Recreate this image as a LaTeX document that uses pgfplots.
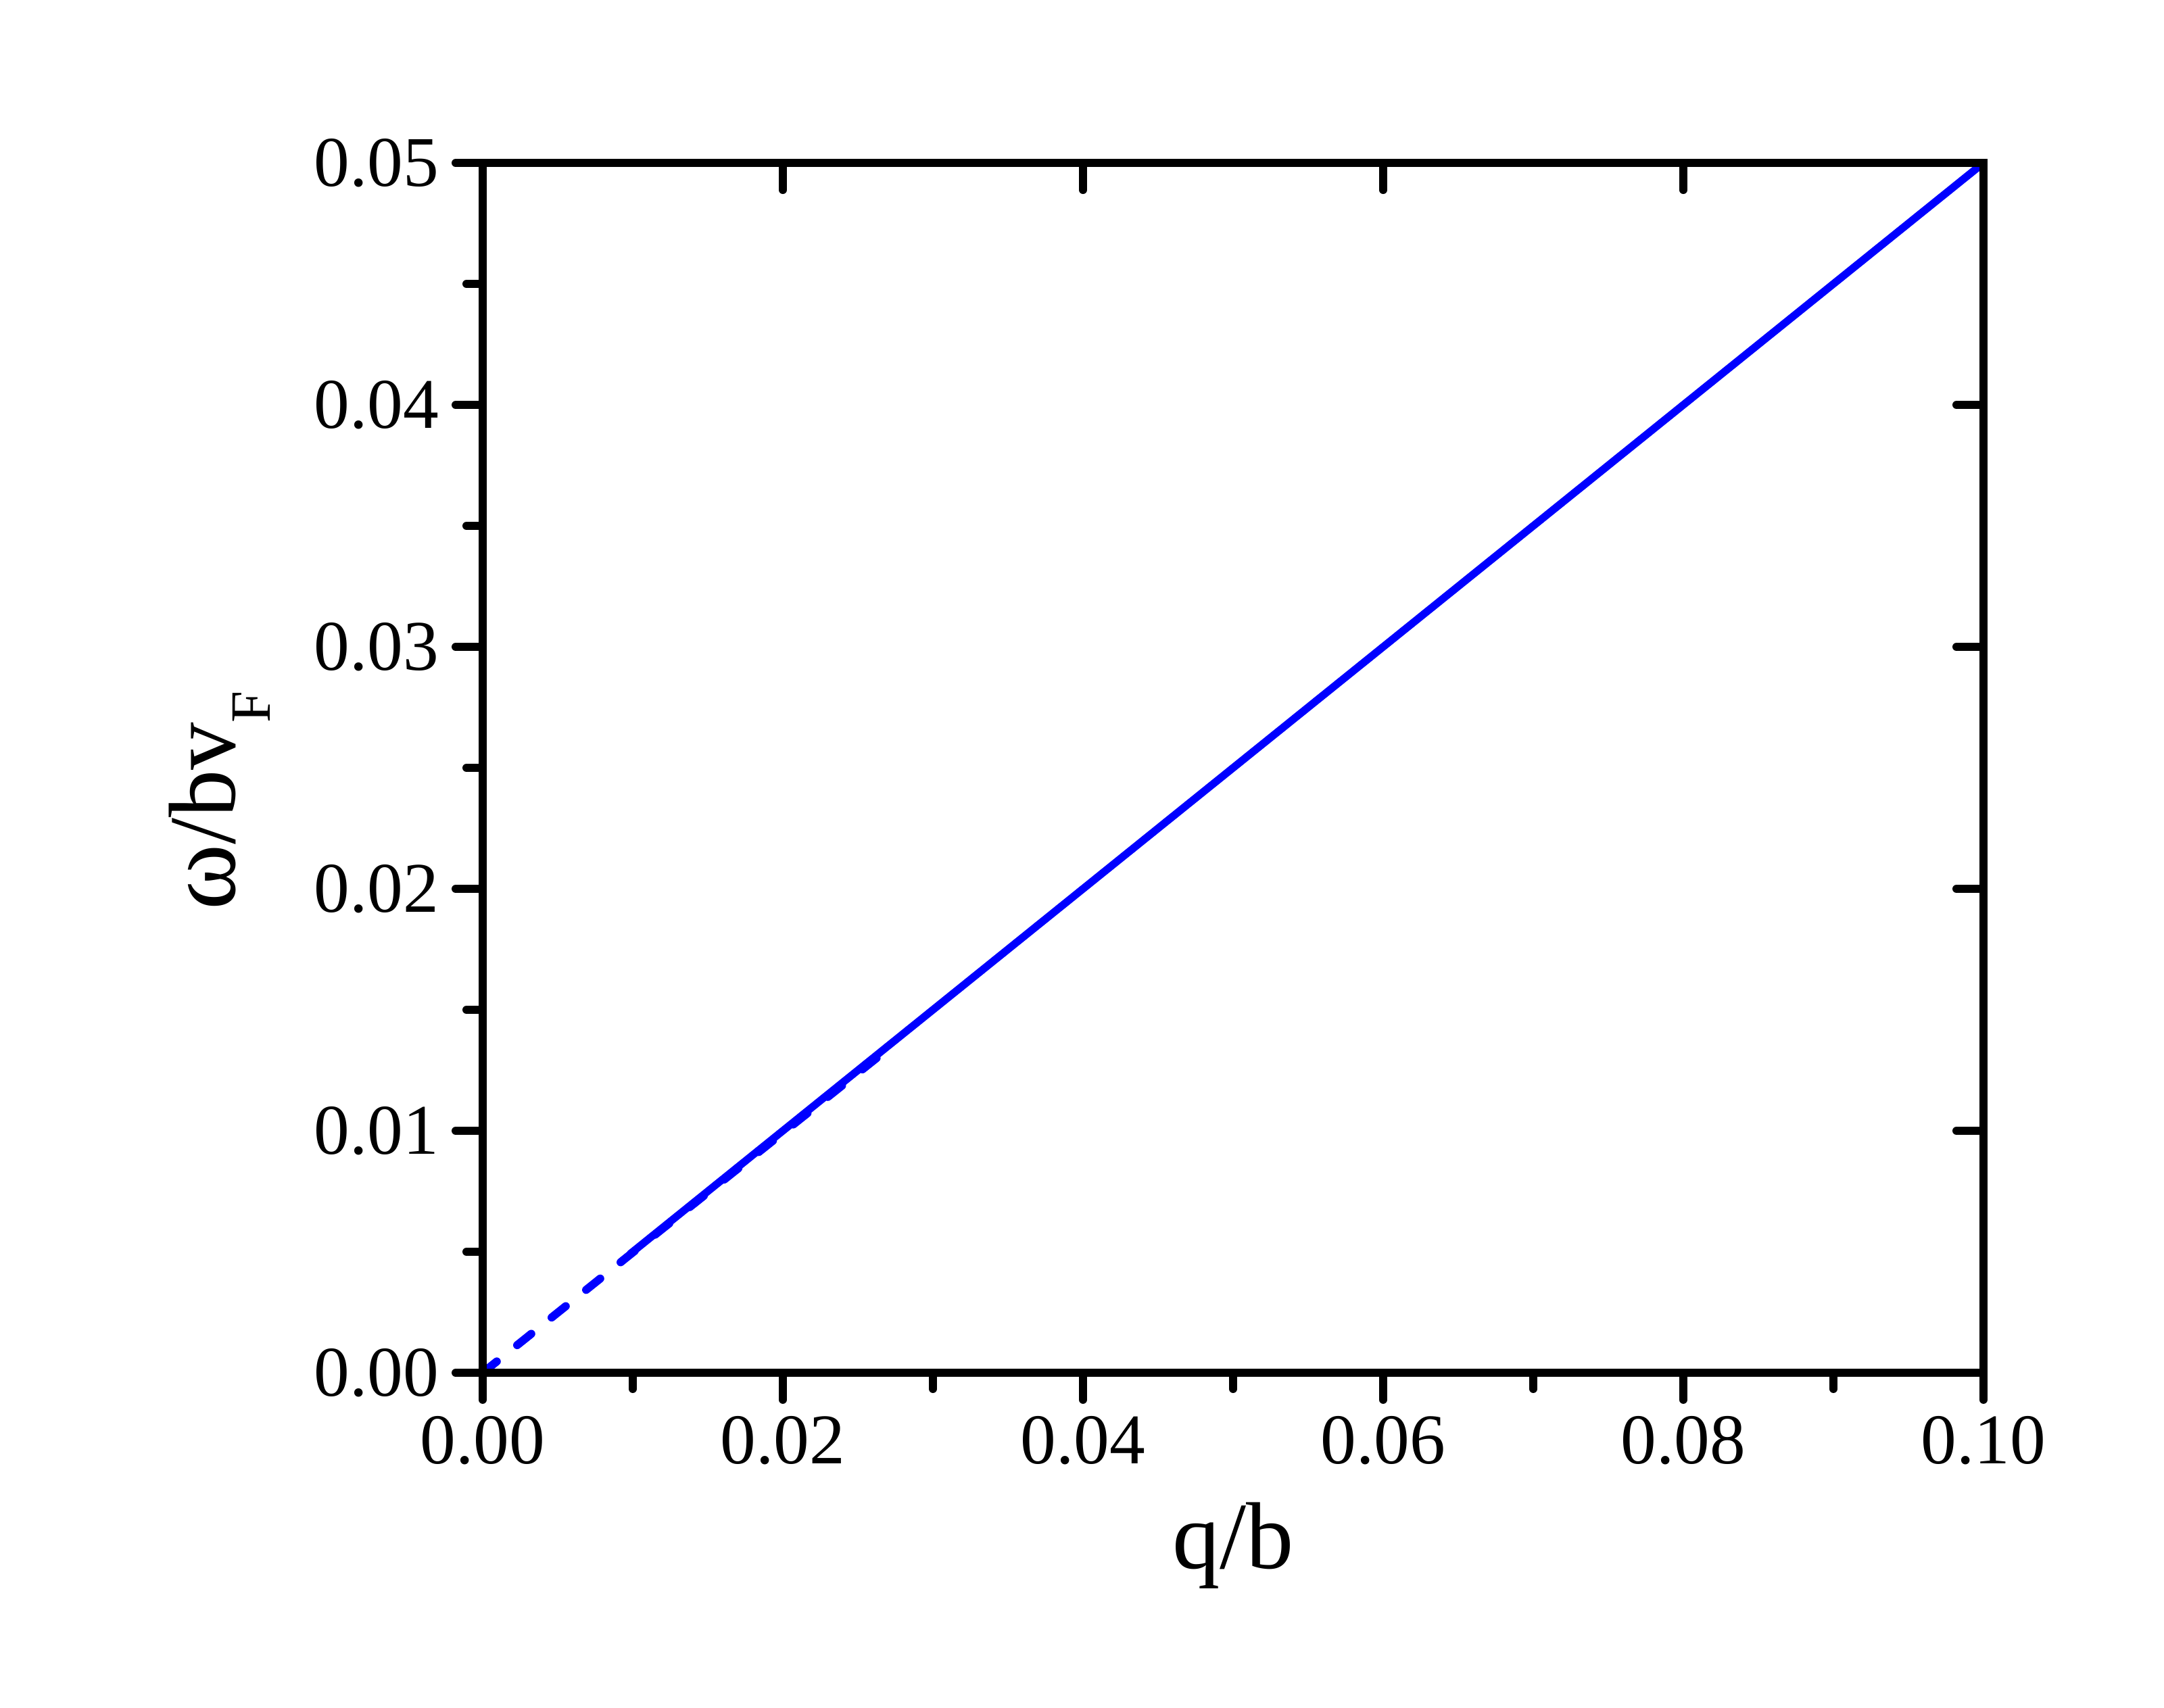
\documentclass[border=0pt]{standalone}
\usepackage{fontspec}
\setmainfont{Liberation Serif}
\usepackage{pgfplots}
\pgfplotsset{compat=1.18}

\pgfplotsset{
  frame/.style={
    width=11.1cm, height=8.95cm, scale only axis,
    xmin=0, xmax=0.1, ymin=0, ymax=0.05,
    scaled ticks=false,
    xtick={0,0.02,0.04,0.06,0.08,0.1},
    ytick={0,0.01,0.02,0.03,0.04,0.05},
    major tick length=0.2cm, minor tick length=0.12cm,
    axis line style={line width=1.7pt},
    tick style={black, line width=1.7pt, line cap=round},
  }
}

\begin{document}
\begin{tikzpicture}
  \begin{axis}[
      frame,
      minor xtick={0.01,0.03,0.05,0.07,0.09},
      minor ytick={0.005,0.015,0.025,0.035,0.045},
      xtick pos=left, ytick pos=left, tick align=outside,
      ticklabel style={font=\fontsize{15}{15}\selectfont},
      xticklabel style={/pgf/number format/.cd, fixed, fixed zerofill, precision=2, assume math mode=true},
      yticklabel style={/pgf/number format/.cd, fixed, fixed zerofill, precision=2, assume math mode=true},
      xlabel={q/b},
      ylabel={{\fontsize{21}{21}\selectfont ω}/bv\raisebox{-7.5pt}{\fontsize{12}{12}\selectfont F}},
      xlabel style={font=\fontsize{20}{20}\selectfont, at={(axis description cs:0.5,-0.162)}, anchor=base},
      ylabel style={font=\fontsize{20}{20}\selectfont, at={(axis description cs:-0.1653,0.473)}, anchor=base},
    ]
    % dashed branch (small q), lies just under the solid one
    \addplot[blue, line width=1.7pt, line cap=round, dash pattern=on 3.8pt off 5.5pt]
      coordinates {(0,0) (0.01,0.00497) (0.0266,0.01318)};
    % solid branch
    \addplot[blue, line width=1.6pt]
      coordinates {(0.0098,0.0049) (0.1,0.05)};
  \end{axis}
  % mirrored ticks on top and right: majors only, pointing inward
  \begin{axis}[
      frame,
      xtick pos=right, ytick pos=right, tick align=inside,
      xticklabels={}, yticklabels={},
    ]
  \end{axis}
  \pgfresetboundingbox
  \path[use as bounding box] ([shift={(-3.57cm,-2.475cm)}]current axis.south west)
    rectangle ([shift={(12.435cm,10.155cm)}]current axis.south west);
\end{tikzpicture}
\end{document}
